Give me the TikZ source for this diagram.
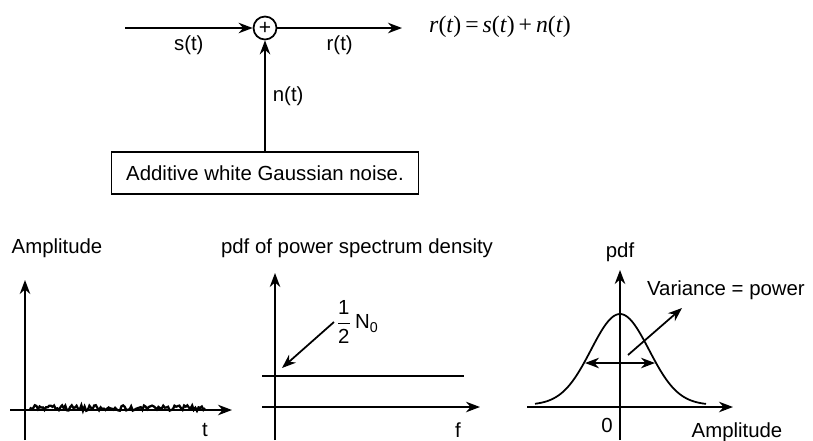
\documentclass[tikz,border=0pt]{standalone}
\usepackage{fontspec}
\setmainfont{Liberation Sans}
\newfontfamily\eqfont{Liberation Serif}
\usetikzlibrary{arrows.meta, positioning}

\tikzset{
  lbl/.style={font=\fontsize{11.6}{13}\selectfont, inner sep=1pt},
  axis/.style={line width=1pt, -{Stealth[length=8pt,width=6pt]}},
  sig/.style={line width=1pt, -{Stealth[length=8pt,width=6pt]}},
  both/.style={line width=1pt, {Stealth[length=8pt,width=6pt]}-{Stealth[length=8pt,width=6pt]}},
}

\begin{document}
\begin{tikzpicture}[x=0.02cm, y=-0.02cm]
  \useasboundingbox (0,0) rectangle (813,440);

  % --- Channel model ---
  \node[draw, circle, line width=1pt, minimum size=0.46cm, inner sep=0pt, font=\large] (sum) at (265,28) {+};
  \coordinate (sin) at (125,28);
  \coordinate (rout) at (402,28);
  \draw[sig] (sin) -- node[lbl, below=3pt] (slbl) {s(t)} (sum);
  \draw[sig] (sum) -- node[lbl, below=3pt] (rlbl) {r(t)} (rout);
  \node[anchor=west, font=\eqfont\fontsize{13.5}{15}\selectfont] (eq) at (423,27) {\textit{r}(\textit{t})\,=\,\textit{s}(\textit{t})\,+\,\textit{n}(\textit{t})};
  % Noise source
  \node[draw, lbl, line width=1pt, minimum width=6.14cm, minimum height=0.84cm] (awgn) at (265,173) {Additive white Gaussian noise.};
  \draw[sig] (awgn.north -| sum) -- node[lbl, right=3pt] (nlbl) {n(t)} (sum);

  % --- Plot 1: noise in time ---
  \draw[axis] (25,440) -- (25,280);
  \draw[axis] (10,410) -- (232,410);
  \pgfmathsetseed{7}
  \draw[line width=1.3pt] plot[domain=30:205, samples=110] (\x,{408-2.8*rand});
  \node[lbl] (amp1) at (57,248) {Amplitude};
  \node[lbl] (tlbl) at (205,430) {t};

  % --- Plot 2: power spectrum density ---
  \draw[axis] (275,440) -- (275,273);
  \draw[axis] (262,407) -- (480,407);
  \draw[line width=1pt] (262,376) -- (464,376);
  \node[lbl] (psd) at (357,248) {pdf of power spectrum density};
  \node[lbl, anchor=west] (half) at (334,322) {$\displaystyle\frac{\mbox{1}}{\mbox{2}}$\,N\textsubscript{0}};
  \coordinate (lvl) at (282,368);
  \draw[sig] (half.west) -- (lvl);
  \node[lbl] (flbl) at (458,430) {f};

  % --- Plot 3: amplitude pdf ---
  \draw[axis] (620,440) -- (620,270);
  \draw[axis] (527,407) -- (733,407);
  \draw[line width=1pt] plot[domain=535:706, samples=100] (\x,{405-91*exp(-((\x-620)/29)^2/2)});
  \coordinate (wl) at (585,363);
  \coordinate (wr) at (655,363);
  \draw[both] (wl) -- (wr);
  \node[lbl, anchor=west] (var) at (645,290) {Variance = power};
  \coordinate (vstart) at (628,355);
  \coordinate (vtip) at (682,308);
  \draw[sig] (vstart) -- (vtip);
  \node[lbl] (pdf) at (620,252) {pdf};
  \node[lbl] (zero) at (607,425) {0};
  \node[lbl] (amp2) at (737,432) {Amplitude};
\end{tikzpicture}
\end{document}
